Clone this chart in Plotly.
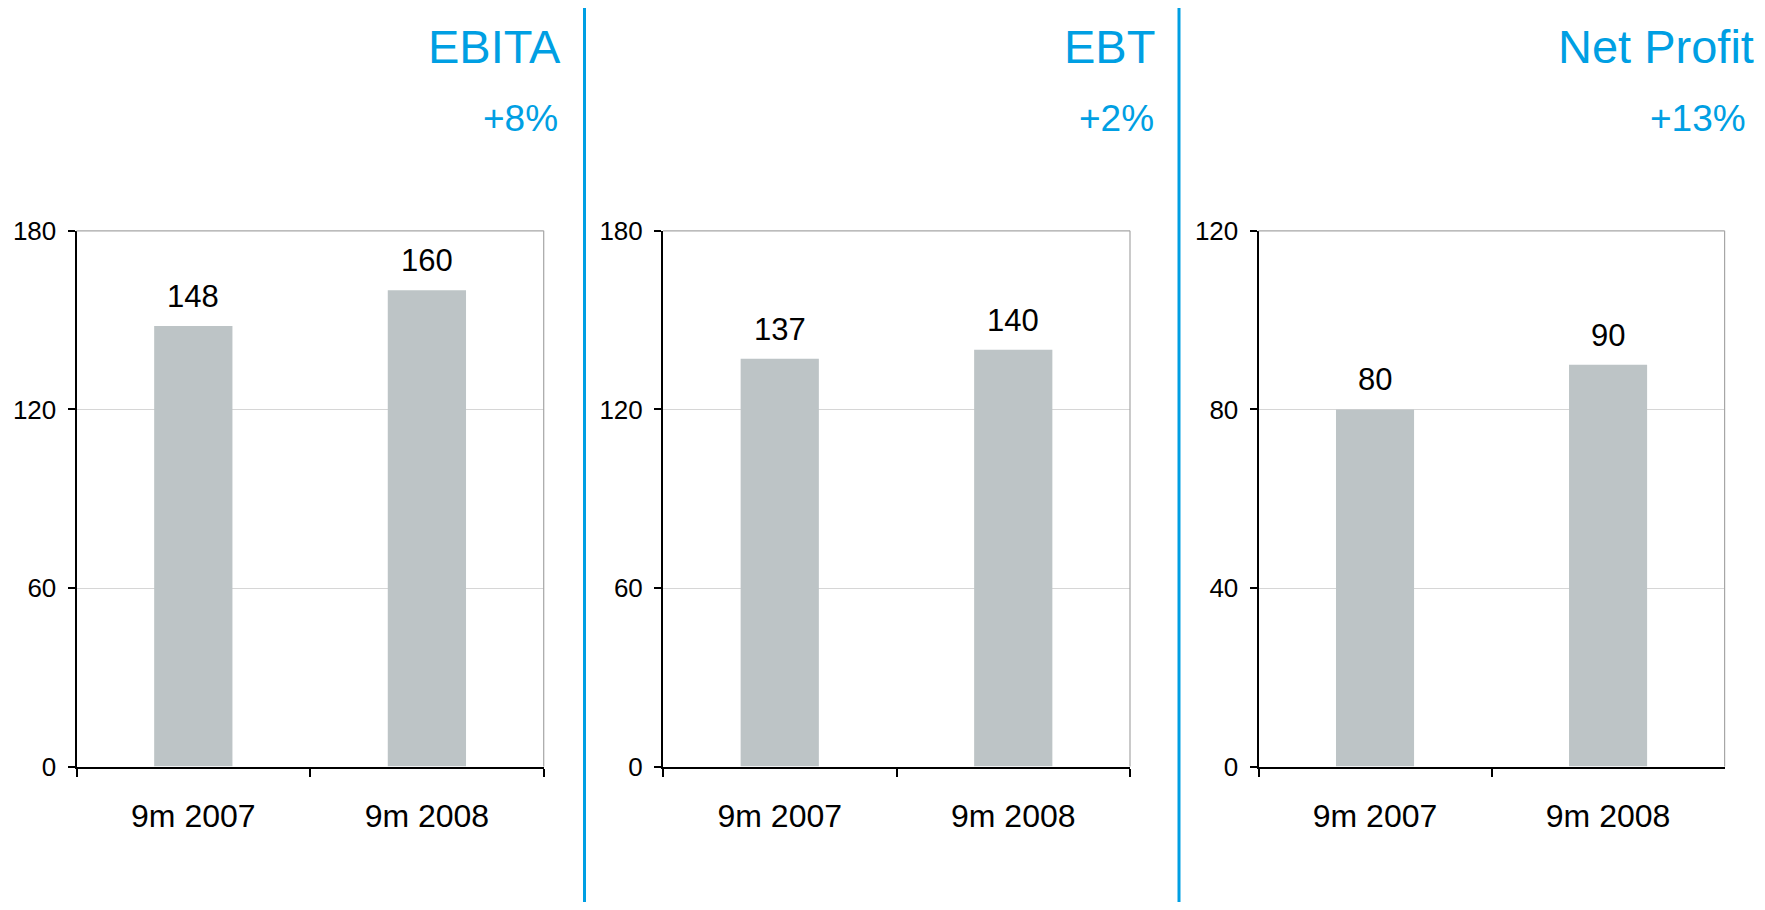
import plotly.graph_objects as go

categories = ["9m 2007", "9m 2008"]
ebita = [148, 160]
ebt = [137, 140]
net_profit = [80, 90]

titles = ["EBITA", "EBT", "Net Profit"]
growth = ["+8%", "+2%", "+13%"]
y_max = [180, 180, 120]
y_step = [60, 60, 40]

series = [ebita, ebt, net_profit]

# page body has an 8px margin; size the figure to fit inside it
OFF = 8
W, H = 1765 - 2 * OFF, 910 - 2 * OFF
BLUE = "#009fe3"
BAR = "#bdc4c6"
FONT = "Liberation Sans, Arial, sans-serif"


def px_x(v):
    return (v - OFF) / W


def px_y(v):
    return 1 - (v - OFF) / H


x_domains = [[px_x(76.5), px_x(543.7)], [px_x(663), px_x(1130)], [px_x(1258.5), px_x(1724.6)]]
y_domain = [px_y(766.6), px_y(230.8)]
title_right = [px_x(563), px_x(1157), px_x(1756)]
growth_right = [px_x(560), px_x(1156), px_x(1748)]
separators = [px_x(584.5), px_x(1179)]

fig = go.Figure()
annotations = []
shapes = []

for i, vals in enumerate(series):
    xa = "x" if i == 0 else f"x{i+1}"
    ya = "y" if i == 0 else f"y{i+1}"
    fig.add_trace(go.Bar(
        x=categories, y=vals, xaxis=xa, yaxis=ya,
        marker=dict(color=BAR, line=dict(width=0)),
        showlegend=False, hoverinfo="skip",
    ))
    for c, v in zip(categories, vals):
        annotations.append(dict(
            x=c, y=v, xref=xa, yref=ya, text=str(v), showarrow=False,
            yanchor="bottom", xanchor="center", yshift=10,
            font=dict(family=FONT, size=31, color="black"),
        ))
    suffix = "" if i == 0 else str(i + 1)
    fig.layout["xaxis" + suffix] = dict(
        domain=x_domains[i], anchor=ya, type="category", automargin=False,
        showline=True, linecolor="black", linewidth=2,
        ticks="outside", tickson="boundaries", ticklen=8, tickwidth=1.5, tickcolor="black",
        showgrid=False, ticklabelstandoff=20,
        tickfont=dict(family=FONT, size=32, color="black"),
        fixedrange=True,
    )
    fig.layout["yaxis" + suffix] = dict(
        domain=y_domain, anchor=xa, range=[0, y_max[i]], automargin=False,
        tick0=0, dtick=y_step[i],
        showline=True, linecolor="black", linewidth=2,
        ticks="outside", ticklen=7, tickwidth=1.5, tickcolor="black",
        showgrid=True, gridcolor="#d6d6d6", gridwidth=1, zeroline=False,
        ticklabelstandoff=6,
        tickfont=dict(family=FONT, size=26, color="black"),
        fixedrange=True,
    )
    # top and right frame lines
    shapes.append(dict(type="line", xref=f"{xa} domain", yref=f"{ya} domain",
                       x0=0, x1=1, y0=1, y1=1, line=dict(color="#a6a6a6", width=1.2)))
    shapes.append(dict(type="line", xref=f"{xa} domain", yref=f"{ya} domain",
                       x0=1, x1=1, y0=0, y1=1, line=dict(color="#a6a6a6", width=1.2)))
    annotations.append(dict(
        x=title_right[i], y=px_y(47), xref="paper", yref="paper",
        text=titles[i], showarrow=False, xanchor="right", yanchor="middle",
        font=dict(family=FONT, size=47, color=BLUE),
    ))
    annotations.append(dict(
        x=growth_right[i], y=px_y(119), xref="paper", yref="paper",
        text=growth[i], showarrow=False, xanchor="right", yanchor="middle",
        font=dict(family=FONT, size=37, color=BLUE),
    ))

for sx in separators:
    shapes.append(dict(type="line", xref="paper", yref="paper",
                       x0=sx, x1=sx, y0=0, y1=px_y(8),
                       line=dict(color=BLUE, width=3)))

fig.update_layout(
    width=W, height=H,
    margin=dict(l=0, r=0, t=0, b=0, autoexpand=False),
    paper_bgcolor="white", plot_bgcolor="white",
    bargap=0.665,
    annotations=annotations, shapes=shapes,
    font=dict(family=FONT),
)

fig.write_html("out.html")
